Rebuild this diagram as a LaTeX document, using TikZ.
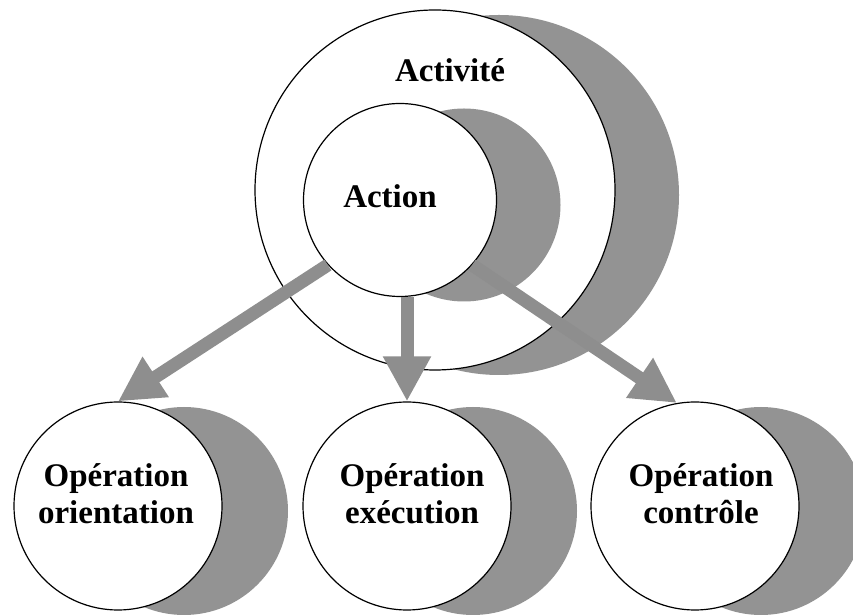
\documentclass[tikz,border=0pt]{standalone}
\usepackage{fontspec}
\setmainfont{Liberation Serif}
\usetikzlibrary{arrows.meta,shadows}
\definecolor{ombregris}{RGB}{147,147,147}
\definecolor{flechegris}{RGB}{142,142,142}

\begin{document}
\begin{tikzpicture}[x = 1pt, y = 1pt,
		bulle/.style = {circle, draw, line width = 1.2pt, fill = white, inner sep = 0pt},
		ombre/.style = {drop shadow = {shadow xshift = #1, shadow yshift = -5pt, fill = ombregris, opacity = 1}},
		titre/.style = {font = \fontsize{33}{37}\selectfont\bfseries, align = center, inner sep = 0pt},
		fleche/.style = {draw = flechegris, line width = 13pt, -{Triangle[length = 45pt, width = 45pt]}}]
		\useasboundingbox (0, 0) rectangle (853, 615);
		\clip (0, 0) rectangle (853, 615);
		%%%%%%%%% cercles
		\node[bulle, ombre = 64pt, minimum size = 360pt] (activite) at (435, 425) {};
		\node[bulle, ombre = 64pt, minimum size = 193pt] (action) at (400, 415) {};
		\node[bulle, ombre = 66pt, minimum size = 208pt] (orient) at (118, 109) {};
		\node[bulle, ombre = 66pt, minimum size = 208pt] (exec) at (407, 109) {};
		\node[bulle, ombre = 66pt, minimum size = 208pt] (ctrl) at (695, 109) {};
		%%%%%%%%% textes
		\node[titre, anchor = base] (tactivite) at (450, 533) {Activité};
		\node[titre, anchor = base] (taction) at (390, 407) {Action};
		\node[titre, anchor = base] (torient) at (116, 91) {Opération\\orientation};
		\node[titre, anchor = base] (texec) at (412, 91) {Opération\\exécution};
		\node[titre, anchor = base] (tctrl) at (701, 91) {Opération\\contrôle};
		%%%%%%%%% fleches
		\draw[fleche] (action.222) -- (orient.north);
		\draw[fleche] (exec.north |- action.south) -- (exec.north);
		\draw[fleche] (action.318) -- (ctrl.100);
	\end{tikzpicture}
\end{document}
